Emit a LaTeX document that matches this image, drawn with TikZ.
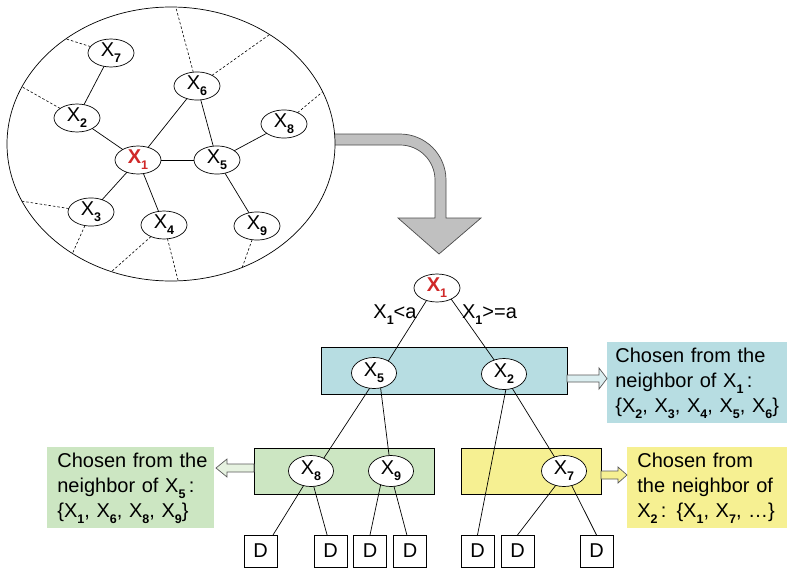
\documentclass[tikz,border=0pt]{standalone}
\usepackage{fontspec}
\setmainfont{Liberation Sans}
\usetikzlibrary{shapes.geometric}
\definecolor{xred}{RGB}{208,40,40}
\definecolor{tealfill}{RGB}{183,221,226}
\definecolor{greenfill}{RGB}{204,230,194}
\definecolor{yellowfill}{RGB}{246,240,146}
\definecolor{arrowgray}{RGB}{192,192,192}
\newcommand{\xsub}[1]{X\raisebox{-0.3em}{\fontsize{12.5}{13}\selectfont\bfseries #1}}
\begin{document}
\begin{tikzpicture}[x=1pt,y=-1pt,line width=0.7pt,
  var/.style={draw,ellipse,fill=white,inner sep=0pt,outer sep=0pt,
    minimum width=46pt,minimum height=28pt,font=\fontsize{20}{24}\selectfont},
  tvar/.style={var,minimum width=45pt,minimum height=31pt},
  leaf/.style={draw,rectangle,fill=white,inner sep=0pt,outer sep=0pt,
    minimum width=33pt,minimum height=32pt,font=\fontsize{20}{24}\selectfont},
  groupbox/.style={draw,rectangle,inner sep=0pt,outer sep=0pt},
  note/.style={rectangle,anchor=north west,align=left,inner xsep=10pt,
    inner ysep=0pt,minimum height=81pt,font=\fontsize{20}{25}\selectfont},
  lbl/.style={anchor=base,inner sep=0pt,font=\fontsize{20}{24}\selectfont},
  dashline/.style={line width=0.6pt,dash pattern=on 2.5pt off 2pt}]
\useasboundingbox (0,0) rectangle (795,576);
\path[fill=arrowgray,draw=black!70]%
(320,134)--(400,134) arc[start angle=-90,end angle=0,radius=46]%
--(446,218)--(481,218)--(439,254)--(398,218)--(435,218)--(435,180)%
arc[start angle=0,end angle=-90,radius=35]--(320,145)--cycle;
\node[draw,ellipse,fill=white,inner sep=0pt,outer sep=0pt,%
minimum width=328pt,minimum height=274pt] (region) at (171,144) {};
\node[var] (x7) at (111,53)  {\xsub{7}};
\node[var] (x6) at (197,86)  {\xsub{6}};
\node[var] (x2) at (77,118)  {\xsub{2}};
\node[var] (x8) at (284,124) {\xsub{8}};
\node[var] (x1) at (138,160) {\textcolor{xred}{\bfseries\xsub{1}}};
\node[var] (x5) at (217,160) {\xsub{5}};
\node[var] (x3) at (91,212)  {\xsub{3}};
\node[var] (x4) at (164,225) {\xsub{4}};
\node[var] (x9) at (257,226) {\xsub{9}};
\draw (x7)--(x2);
\draw (x2)--(x1);
\draw (x1)--(x6);
\draw (x6)--(x5);
\draw (x1)--(x5);
\draw (x5)--(x8);
\draw (x1)--(x3);
\draw (x1)--(x4);
\draw (x5)--(x9);
\draw[dashline] (x7)--(region.135.3);
\draw[dashline] (x2)--(region.159.7);
\draw[dashline] (x6)--(region.88.3);
\draw[dashline] (x6)--(region.48.8);
\draw[dashline] (x8)--(region.19.9);
\draw[dashline] (x3)--(region.201.3);
\draw[dashline] (x3)--(region.228.6);
\draw[dashline] (x4)--(region.245.7);
\draw[dashline] (x4)--(region.273.8);
\draw[dashline] (x9)--(region.300);
\node[groupbox,fill=tealfill,minimum width=246pt,minimum height=47pt]%
 (bluebox) at (444,370.5) {};
\node[groupbox,fill=greenfill,minimum width=180pt,minimum height=46pt]%
 (greenbox) at (344,471) {};
\node[groupbox,fill=yellowfill,minimum width=140pt,minimum height=46pt]%
 (yellowbox) at (531,471) {};
\node[var] (root) at (437,288) {\textcolor{xred}{\bfseries\xsub{1}}};
\node[tvar] (x5t) at (374,373) {\xsub{5}};
\node[tvar] (x2t) at (504,374) {\xsub{2}};
\node[tvar] (x8t) at (311,471) {\xsub{8}};
\node[tvar] (x9t) at (391,471) {\xsub{9}};
\node[tvar] (x7t) at (564,471) {\xsub{7}};
\node[leaf] (d1) at (260.5,551) {D};
\node[leaf] (d2) at (330.5,551) {D};
\node[leaf] (d3) at (370,551)   {D};
\node[leaf] (d4) at (410,551)   {D};
\node[leaf] (d5) at (477.5,551) {D};
\node[leaf] (d6) at (517.5,551) {D};
\node[leaf] (d7) at (596.5,551) {D};
\draw (root.230)--(x5t.40);
\draw (root.322)--(x2t.125);
\draw (x5t.254)--(x8t.45);
\draw (x5t.294)--(x9t.97);
\draw (x2t.277)--(d5.north);
\draw (x2t.300)--(x7t.124);
\draw (x8t.243)--(d1.52);
\draw (x8t.280)--(d2.102);
\draw (x9t.233)--(d3.north);
\draw (x9t.281)--(d4.101);
\draw (x7t.240)--(d6.north);
\draw (x7t.298)--(d7.north);
\node[lbl] (lessa) at (395,318) {\xsub{1}<a};
\node[lbl] (geqa) at (489.5,318) {\xsub{1}>=a};
\node[note,fill=tealfill,text width=164pt,inner xsep=8pt] (bluenote) at (607,342)%
 {\mbox{Chosen from the}\\\mbox{neighbor of \xsub{1}\,:}\\%
 \mbox{\{\xsub{2}, \xsub{3}, \xsub{4}, \xsub{5}, \xsub{6}\}}};
\node[note,fill=greenfill,text width=147pt] (greennote) at (47,447)%
 {\mbox{Chosen from the}\\\mbox{neighbor of \xsub{5}\,:}\\%
 \mbox{\{\xsub{1}, \xsub{6}, \xsub{8}, \xsub{9}\}}};
\node[note,fill=yellowfill,text width=140pt] (yellownote) at (627,447)%
 {\mbox{Chosen from}\\\mbox{the neighbor of}\\%
 \mbox{\xsub{2}\,: \{\xsub{1}, \xsub{7}, \ldots\}}};
\path[draw=black!65,fill=tealfill!50]%
(bluebox.east)++(0,4.5)--++(32,0)--++(0,-7)--++(8,10.5)--++(-8,10.5)%
--++(0,-7)--++(-32,0)--cycle;
\path[draw=black!65,fill=greenfill!50]%
(greenbox.west)++(0,-7)--++(-27,0)--++(0,-5)--++(-11,9)--++(11,9)%
--++(0,-5)--++(27,0)--cycle;
\path[draw=black!65,fill=yellowfill]%
(yellowbox.east)--++(17,0)--++(0,-4)--++(9,8)--++(-9,8)--++(0,-4)%
--++(-17,0)--cycle;
\end{tikzpicture}
\end{document}
